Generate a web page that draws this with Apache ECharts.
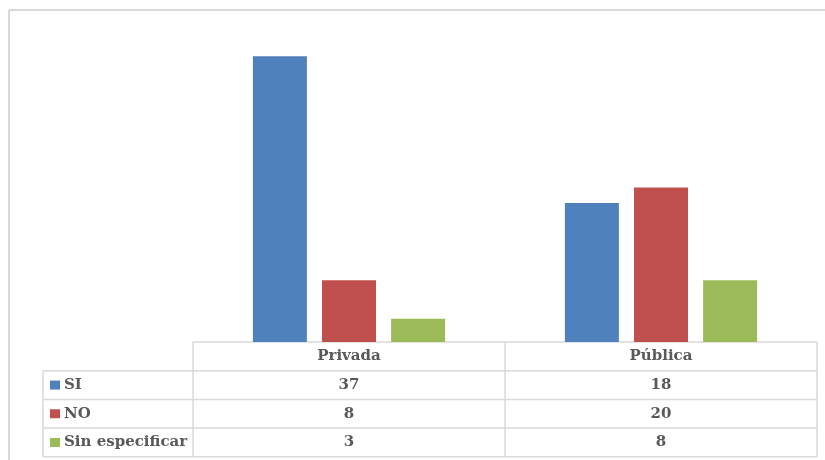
<!DOCTYPE html>
<html><head><meta charset="utf-8">
<script src="https://cdn.jsdelivr.net/npm/echarts@6/dist/echarts.min.js"></script>
<style>html,body{margin:0;padding:0;background:#fff;overflow:hidden}#c{width:825px;height:460px}</style>
</head><body><div id="c"></div>
<script>
const categories = ['Privada', 'Pública'];
const seriesNames = ['SI', 'NO', 'Sin especificar'];
const SI = [37, 18];
const NO = [8, 20];
const SIN = [3, 8];
const values = [SI, NO, SIN];
const colors = ['#4f81bd', '#c0504d', '#9bbb59'];

const chart = echarts.init(document.getElementById('c'));
const gridL = 193, gridR = 817, gridTop = 33, axisY = 342, rowH = 28.7, tableL = 43;
const font = 'DejaVu Serif';
const fs = 15;
const textStyle = {fontFamily: font, fontWeight: 'bold', fontSize: fs, color: '#595959'};

const xAxes = [{
  type: 'category', data: categories, position: 'bottom',
  axisLine: {show: false}, axisTick: {show: false},
  axisLabel: Object.assign({margin: 7}, textStyle)
}];
values.forEach((arr, k) => {
  xAxes.push({
    type: 'category', data: categories, position: 'bottom', offset: rowH * (k + 1),
    axisLine: {show: false}, axisTick: {show: false},
    axisLabel: Object.assign({margin: 7, formatter: (v, i) => String(arr[i])}, textStyle)
  });
});

const graphics = [];
const lineStyle = {stroke: '#d9d9d9', lineWidth: 1.5};
const frameStyle = {stroke: '#d9d9d9', lineWidth: 2};
graphics.push({type: 'line', shape: {x1: 9, y1: 10, x2: 825, y2: 10}, style: frameStyle, silent: true});
graphics.push({type: 'line', shape: {x1: 9, y1: 10, x2: 9, y2: 460}, style: frameStyle, silent: true});
graphics.push({type: 'line', shape: {x1: gridL, y1: axisY, x2: gridR, y2: axisY}, style: lineStyle});
for (let k = 1; k <= 4; k++) {
  const y = axisY + rowH * k;
  graphics.push({type: 'line', shape: {x1: tableL, y1: y, x2: gridR, y2: y}, style: lineStyle});
}
const mid = (gridL + gridR) / 2;
graphics.push({type: 'line', shape: {x1: tableL, y1: axisY + rowH, x2: tableL, y2: axisY + rowH * 4}, style: lineStyle});
[gridL, mid, gridR].forEach(x => {
  graphics.push({type: 'line', shape: {x1: x, y1: axisY, x2: x, y2: axisY + rowH * 4}, style: lineStyle});
});
seriesNames.forEach((n, k) => {
  const cy = axisY + rowH * (k + 1) + rowH / 2;
  graphics.push({type: 'rect', shape: {x: 50, y: cy - 4.5, width: 10, height: 9}, style: {fill: colors[k]}});
  graphics.push({type: 'text', x: 64, y: cy, style: {text: n, font: 'bold ' + fs + 'px "' + font + '"', fill: '#595959', verticalAlign: 'middle'}});
});

chart.setOption({
  animation: false,
  grid: {left: gridL, right: 825 - gridR, top: gridTop, bottom: 460 - axisY},
  xAxis: xAxes,
  yAxis: {type: 'value', min: 0, max: 40, show: false, splitLine: {show: false}},
  series: seriesNames.map((n, k) => ({
    name: n, type: 'bar', data: values[k], barWidth: 54, barGap: '28%',
    itemStyle: {color: colors[k]}
  })),
  graphic: graphics
});
</script></body></html>
